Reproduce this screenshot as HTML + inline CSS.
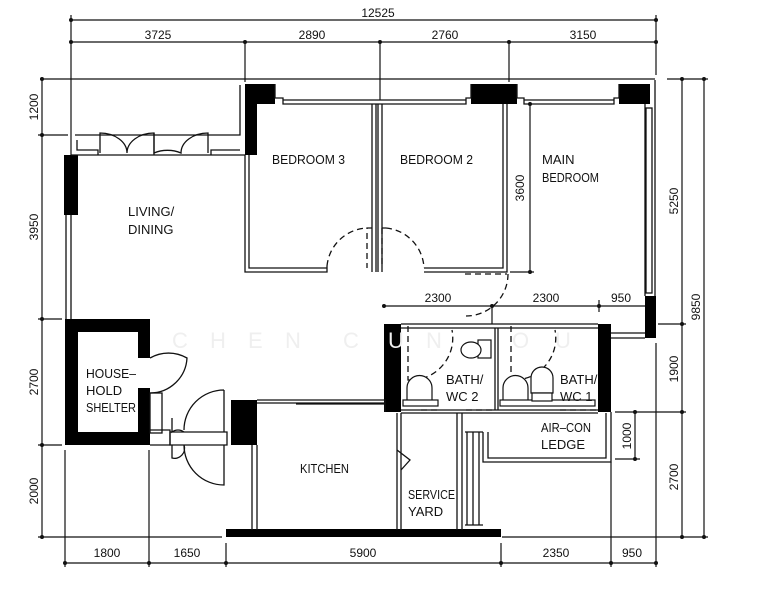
<!DOCTYPE html>
<html><head><meta charset="utf-8"><style>
html,body{margin:0;padding:0;background:#fff;}
svg{display:block;}
text{font-family:"Liberation Sans",sans-serif;fill:#111;}
</style></head><body>
<svg width="763" height="600" viewBox="0 0 763 600" xmlns="http://www.w3.org/2000/svg">
<rect width="763" height="600" fill="#fff"/>
<g stroke="#111" stroke-width="1.2" fill="none">
<line x1="71" y1="20" x2="656" y2="20"/>
<line x1="71" y1="42" x2="656" y2="42"/>
<line x1="71" y1="15" x2="71" y2="155"/>
<line x1="656" y1="15" x2="656" y2="75"/>
<line x1="245" y1="42" x2="245" y2="82"/>
<line x1="380" y1="42" x2="380" y2="100"/>
<line x1="509" y1="42" x2="509" y2="82"/>
<line x1="40" y1="79" x2="655" y2="79"/>
<line x1="667" y1="79" x2="708" y2="79"/>
<line x1="42" y1="79" x2="42" y2="537"/>
<line x1="38" y1="135" x2="68" y2="135"/>
<line x1="38" y1="319" x2="62" y2="319"/>
<line x1="38" y1="445" x2="62" y2="445"/>
<line x1="38" y1="537" x2="222" y2="537"/>
<line x1="682" y1="79" x2="682" y2="537"/>
<line x1="704" y1="79" x2="704" y2="537"/>
<line x1="658" y1="324" x2="686" y2="324"/>
<line x1="615" y1="412" x2="686" y2="412"/>
<line x1="615" y1="459" x2="640" y2="459"/>
<line x1="635" y1="412" x2="635" y2="459"/>
<line x1="502" y1="537" x2="708" y2="537"/>
<line x1="656" y1="343" x2="656" y2="567"/>
<line x1="611" y1="462" x2="611" y2="567"/>
<line x1="384" y1="306" x2="645" y2="306"/>
<line x1="599" y1="300" x2="599" y2="312"/>
<line x1="492" y1="306" x2="492" y2="324"/>
<line x1="530" y1="104" x2="530" y2="272"/>
<line x1="510" y1="272" x2="534" y2="272"/>
<line x1="65" y1="563" x2="656" y2="563"/>
<line x1="65" y1="450" x2="65" y2="567"/>
<line x1="149" y1="450" x2="149" y2="567"/>
<line x1="226" y1="543" x2="226" y2="567"/>
<line x1="501" y1="543" x2="501" y2="567"/>
</g>
<g fill="#111">
<circle cx="71" cy="20" r="2"/><circle cx="656" cy="20" r="2"/>
<circle cx="71" cy="42" r="2"/><circle cx="245" cy="42" r="2"/><circle cx="380" cy="42" r="2"/><circle cx="509" cy="42" r="2"/><circle cx="656" cy="42" r="2"/>
<circle cx="42" cy="79" r="2"/><circle cx="42" cy="135" r="2"/><circle cx="42" cy="319" r="2"/><circle cx="42" cy="445" r="2"/><circle cx="42" cy="537" r="2"/>
<circle cx="682" cy="79" r="2"/><circle cx="704" cy="79" r="2"/><circle cx="682" cy="324" r="2"/><circle cx="682" cy="412" r="2"/><circle cx="682" cy="537" r="2"/><circle cx="704" cy="537" r="2"/>
<circle cx="635" cy="412" r="2"/><circle cx="635" cy="459" r="2"/>
<circle cx="384" cy="306" r="2"/><circle cx="492" cy="306" r="2"/><circle cx="599" cy="306" r="2"/>
<circle cx="530" cy="104" r="2"/><circle cx="530" cy="272" r="2"/>
<circle cx="65" cy="563" r="2"/><circle cx="149" cy="563" r="2"/><circle cx="226" cy="563" r="2"/><circle cx="501" cy="563" r="2"/><circle cx="611" cy="563" r="2"/><circle cx="656" cy="563" r="2"/>
</g>
<g fill="#000">
<rect x="245" y="84" width="30" height="20"/>
<rect x="245" y="104" width="12" height="51"/>
<rect x="471" y="84" width="46" height="20"/>
<rect x="619" y="84" width="31" height="20"/>
<rect x="64" y="155" width="14" height="60"/>
<rect x="645" y="296" width="11" height="42"/>
<rect x="384" y="324" width="17" height="88"/>
<rect x="598" y="324" width="13" height="88"/>
<rect x="231" y="400" width="26" height="45"/>
<rect x="226" y="529" width="275" height="8"/>
<path d="M65 319H150V445H65Z M78 332V432H138V332Z" fill-rule="evenodd"/>
</g>
<rect x="138" y="358" width="12" height="30" fill="#fff"/>
<g stroke="#111" stroke-width="1.3" fill="none">
<path d="M75 135H240V85"/>
<path d="M71 155H245"/>
<path d="M77 140V150H98V155M211 155V150H240"/>
<path d="M100 153V133A27 20 0 0 1 127 153A27 20 0 0 1 154 133V153A27 20 0 0 1 181 153A27 20 0 0 1 208 133V153"/>
<line x1="154" y1="133" x2="154" y2="155"/>
<path d="M275 84V98H283V104H466V98H471V84"/>
<path d="M283 100H466"/>
<path d="M517 84V98H524V104H614V98H619V84"/>
<path d="M524 100H614"/>
<path d="M66 215V319M71 215V319"/>
<path d="M245 155V272H327V266M249 155V268H327"/>
<path d="M372 104V272M376 104V272M378 104V272M382 104V272"/>
<path d="M424 272H507V104M424 268H503V104"/>
<path d="M645 104V296M655 80V296"/>
<rect x="646" y="108" width="6" height="185"/>
<path d="M401 324H598M401 328H598M401 410H598M401 413H598"/>
<path d="M495 328V410M498 328V410"/>
<path d="M611 333H645M611 338H645"/>
<path d="M462 413V530M457 413V530M397 413V530M401 413V530"/>
<path d="M488 432V458H606V413M483 432V462H611V412"/>
<path d="M465 432H483 M465 525H483" />
<path d="M467 432V525M473 432V525M479 432V525"/>
<path d="M257 400H385V412M257 403H385"/>
<path d="M296 404H385"/>
<path d="M252 445V530M257 445V530"/>
<path d="M150 358A37 37 0 0 1 187 358A37 37 0 0 1 150 393"/>
<rect x="150" y="393" width="12" height="40"/>
<path d="M150 430H170V445H150"/>
<path d="M170 432H227V445H170Z"/>
<path d="M224 390V432 M224 390A40 40 0 0 0 184 430"/>
<path d="M224 445V485A40 40 0 0 1 184 445"/>
<path d="M172 418V432A10 10 0 0 1 184 432 M172 445V458A10 10 0 0 0 184 445"/>
<path d="M397 450L410 460L401 470"/>
</g>
<g stroke="#111" stroke-width="1.3" fill="none" stroke-dasharray="6,4">
<path d="M372 228H367V268 M327 266A42 42 0 0 1 367 228"/>
<path d="M382 228H386 M386 228A42 42 0 0 1 424 268 M382 228V268"/>
<path d="M465 274H507 M508 274A42 42 0 0 1 466 316"/>
<path d="M408 326V380H412 M412 380A42 42 0 0 0 452 330"/>
<path d="M511 326V380H515 M515 380A42 42 0 0 0 555 330"/>
<path d="M466 410H494 M560 410H596 M421 410H440"/>
</g>
<g stroke="#111" stroke-width="1.2" fill="#fff">
<path d="M407 400V388A12 12 0 0 1 432 388V400"/><rect x="403" y="400" width="35" height="6"/>
<path d="M503 400V388A12 12 0 0 1 528 388V400"/><rect x="500" y="400" width="95" height="6"/>
<rect x="478" y="340" width="13" height="18"/><ellipse cx="471" cy="350" rx="10" ry="8"/>
<path d="M531 393V378A11 11 0 0 1 553 378V393Z"/><rect x="532" y="393" width="20" height="8"/>
</g>
<g font-size="22">
<text x="172" y="348" style="fill:#efefef">C</text><text x="210" y="348" style="fill:#efefef">H</text><text x="248" y="348" style="fill:#efefef">E</text><text x="285" y="348" style="fill:#efefef">N</text>
<text x="343" y="348" style="fill:#efefef">C</text><text x="388" y="348" style="fill:#efefef">U</text><text x="426" y="348" style="fill:#efefef">N</text><text x="512" y="348" style="fill:#efefef">O</text><text x="555" y="348" style="fill:#efefef">U</text>
</g>
<g font-size="12">
<text x="378" y="17" text-anchor="middle">12525</text>
<text x="158" y="39" text-anchor="middle">3725</text>
<text x="312" y="39" text-anchor="middle">2890</text>
<text x="445" y="39" text-anchor="middle">2760</text>
<text x="583" y="39" text-anchor="middle">3150</text>
<text x="107" y="557" text-anchor="middle">1800</text>
<text x="187" y="557" text-anchor="middle">1650</text>
<text x="363" y="557" text-anchor="middle">5900</text>
<text x="556" y="557" text-anchor="middle">2350</text>
<text x="632" y="557" text-anchor="middle">950</text>
<text x="438" y="302" text-anchor="middle">2300</text>
<text x="546" y="302" text-anchor="middle">2300</text>
<text x="621" y="302" text-anchor="middle">950</text>
<text transform="translate(38,107) rotate(-90)" text-anchor="middle">1200</text>
<text transform="translate(38,227) rotate(-90)" text-anchor="middle">3950</text>
<text transform="translate(38,382) rotate(-90)" text-anchor="middle">2700</text>
<text transform="translate(38,491) rotate(-90)" text-anchor="middle">2000</text>
<text transform="translate(524,188) rotate(-90)" text-anchor="middle">3600</text>
<text transform="translate(678,201) rotate(-90)" text-anchor="middle">5250</text>
<text transform="translate(700,307) rotate(-90)" text-anchor="middle">9850</text>
<text transform="translate(678,369) rotate(-90)" text-anchor="middle">1900</text>
<text transform="translate(678,477) rotate(-90)" text-anchor="middle">2700</text>
<text transform="translate(631,436) rotate(-90)" text-anchor="middle">1000</text>
</g>
<g font-size="13">
<text x="272" y="164" textLength="73" lengthAdjust="spacingAndGlyphs">BEDROOM 3</text>
<text x="400" y="164" textLength="73" lengthAdjust="spacingAndGlyphs">BEDROOM 2</text>
<text x="542" y="164">MAIN</text><text x="542" y="182" textLength="57" lengthAdjust="spacingAndGlyphs">BEDROOM</text>
<text x="128" y="216">LIVING/</text><text x="128" y="234">DINING</text>
<text x="86" y="378" textLength="50" lengthAdjust="spacingAndGlyphs">HOUSE–</text><text x="86" y="395">HOLD</text><text x="86" y="412" textLength="50" lengthAdjust="spacingAndGlyphs">SHELTER</text>
<text x="300" y="473" textLength="49" lengthAdjust="spacingAndGlyphs">KITCHEN</text>
<text x="408" y="499" textLength="47" lengthAdjust="spacingAndGlyphs">SERVICE</text><text x="408" y="516">YARD</text>
<text x="446" y="384">BATH/</text><text x="446" y="401">WC 2</text>
<text x="560" y="384">BATH/</text><text x="560" y="401">WC 1</text>
<text x="541" y="432" textLength="50" lengthAdjust="spacingAndGlyphs">AIR–CON</text><text x="541" y="449">LEDGE</text>
</g>
</svg>
</body></html>
